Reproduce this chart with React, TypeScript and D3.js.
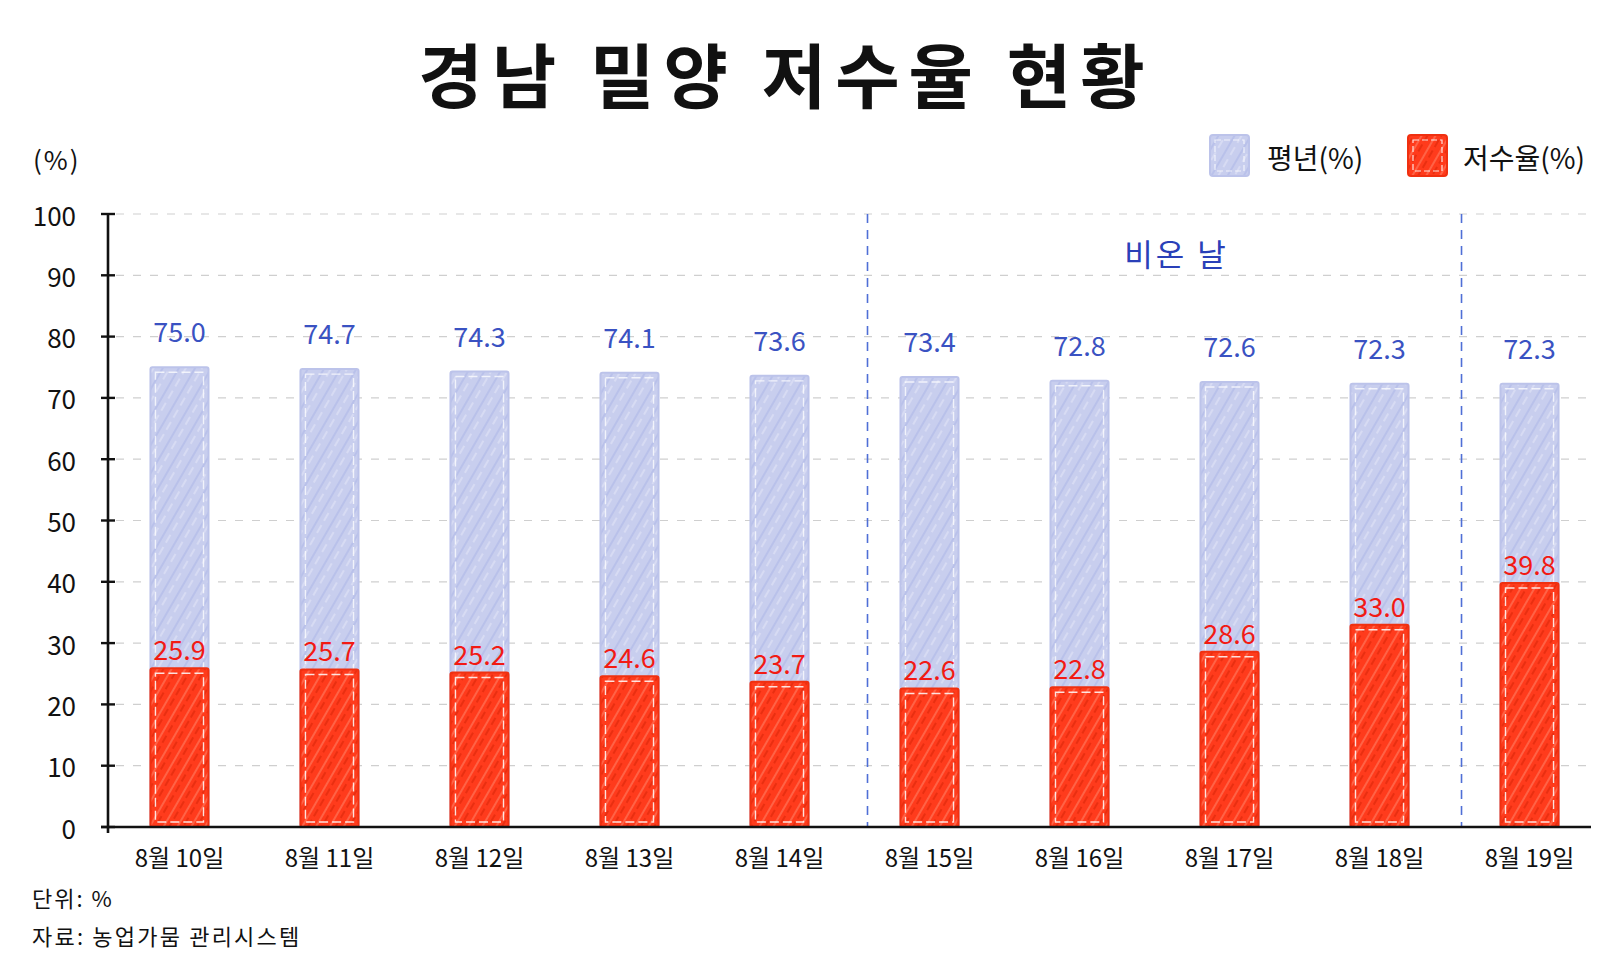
import React from "react";
import * as d3 from "d3";

const categories = ["8월 10일", "8월 11일", "8월 12일", "8월 13일", "8월 14일", "8월 15일", "8월 16일", "8월 17일", "8월 18일", "8월 19일"];
const normalValues = [75.0, 74.7, 74.3, 74.1, 73.6, 73.4, 72.8, 72.6, 72.3, 72.3];
const storageValues = [25.9, 25.7, 25.2, 24.6, 23.7, 22.6, 22.8, 28.6, 33.0, 39.8];
const yTicks = [0, 10, 20, 30, 40, 50, 60, 70, 80, 90, 100];
const rainyDays = ["8월 15일", "8월 16일", "8월 17일", "8월 18일"];
const seriesNames = ["평년(%)", "저수율(%)"];

const W = 1620;
const H = 971;
const FONT = "'Noto Sans CJK KR', 'Noto Sans', sans-serif";
const BLUE = "#c8ceee";
const RED = "#ff3b1c";
const BLUE_TEXT = "#3a52c2";
const RED_TEXT = "#f21a14";

export default function App() {
  const x = d3
    .scaleBand<string>()
    .domain(categories)
    .range([108, 1601])
    .paddingInner(0.613)
    .paddingOuter(0.283);
  const y = d3.scaleLinear().domain([0, 100]).range([827, 214]);
  const bw = x.bandwidth();
  const gap = x.step() - bw;
  const xAxisEnd = 1591;

  const rainLeft = (x(rainyDays[0]) as number) - gap / 2 + 13;
  const rainRight = (x(rainyDays[rainyDays.length - 1]) as number) + bw + gap / 2 + 7;

  const bar = (i: number, v: number, kind: "blue" | "red") => {
    const bx = x(categories[i]) as number;
    const by = y(v);
    const bh = y(0) - by;
    const fill = kind === "blue" ? "url(#hatchBlue)" : "url(#hatchRed)";
    const edge = kind === "blue" ? "#bcc3ea" : "#f03010";
    const inner = kind === "blue" ? "rgba(255,255,255,0.75)" : "rgba(255,255,255,0.85)";
    return (
      <g key={kind + i}>
        <rect x={bx} y={by} width={bw} height={bh} fill={fill} stroke={edge} strokeWidth={2} rx={2} />
        <rect
          x={bx + 5}
          y={by + 5}
          width={bw - 10}
          height={Math.max(0, bh - 10)}
          fill="none"
          stroke={inner}
          strokeWidth={1.4}
          strokeDasharray="9 4"
        />
      </g>
    );
  };

  return (
    <svg width={W} height={H} style={{ display: "block", position: "absolute", left: 0, top: 0, background: "#fff" }}>
      <defs>
        <pattern id="hatchBlue" width="14" height="14" patternUnits="userSpaceOnUse" patternTransform="rotate(30)">
          <rect width="14" height="14" fill={BLUE} />
          <line x1="3" y1="0" x2="3" y2="14" stroke="#b6bee9" strokeWidth="1.6" />
          <line x1="9" y1="0" x2="9" y2="9" stroke="#e6e9f8" strokeWidth="1" />
        </pattern>
        <pattern id="hatchRed" width="12" height="12" patternUnits="userSpaceOnUse" patternTransform="rotate(30)">
          <rect width="12" height="12" fill={RED} />
          <line x1="3" y1="0" x2="3" y2="12" stroke="#ff8a70" strokeWidth="1" />
          <line x1="8" y1="2" x2="8" y2="10" stroke="#e02a0c" strokeWidth="1.4" />
        </pattern>
      </defs>

      {/* Title */}
      <text
        x={786}
        y={72}
        textAnchor="middle"
        dominantBaseline="central"
        fontFamily={FONT}
        fontWeight={600}
        fontSize={70}
        letterSpacing={9}
        fill="#111"
      >
        경남 밀양 저수율 현황
      </text>

      {/* Unit label */}
      <text x={33} y={158} dominantBaseline="central" fontFamily={FONT} fontSize={26} letterSpacing={2} fill="#111">
        (%)
      </text>

      {/* Legend */}
      <rect x={1210} y={135} width={39} height={41} fill="url(#hatchBlue)" stroke="#bcc3ea" strokeWidth={2} rx={3} />
      <rect x={1215} y={140} width={29} height={31} fill="none" stroke="rgba(255,255,255,0.75)" strokeWidth={1.2} strokeDasharray="6 3" />
      <text x={1267} y={157} dominantBaseline="central" fontFamily={FONT} fontSize={28} fill="#111">
        {seriesNames[0]}
      </text>
      <rect x={1408} y={135} width={39} height={41} fill="url(#hatchRed)" stroke="#f03010" strokeWidth={2} rx={3} />
      <rect x={1413} y={140} width={29} height={31} fill="none" stroke="rgba(255,255,255,0.85)" strokeWidth={1.2} strokeDasharray="6 3" />
      <text x={1463} y={157} dominantBaseline="central" fontFamily={FONT} fontSize={28} fill="#111">
        {seriesNames[1]}
      </text>

      {/* Gridlines */}
      {yTicks
        .filter((t) => t > 0)
        .map((t) => (
          <line
            key={"g" + t}
            x1={116}
            x2={xAxisEnd}
            y1={y(t)}
            y2={y(t)}
            stroke="#cfcfcf"
            strokeWidth={1.2}
            strokeDasharray="8 9"
          />
        ))}

      {/* Rainy day separators */}
      {[rainLeft, rainRight].map((lx, i) => (
        <line
          key={"r" + i}
          x1={lx}
          x2={lx}
          y1={y(100)}
          y2={y(0)}
          stroke="#4f6fd6"
          strokeWidth={1.6}
          strokeDasharray="9 7"
        />
      ))}
      <text
        x={(rainLeft + rainRight) / 2 + 12}
        y={y(93.8)}
        textAnchor="middle"
        dominantBaseline="central"
        fontFamily={FONT}
        fontSize={31}
        letterSpacing={3}
        fill="#2a40b8"
      >
        비온 날
      </text>

      {/* Bars */}
      {normalValues.map((v, i) => bar(i, v, "blue"))}
      {storageValues.map((v, i) => bar(i, v, "red"))}

      {/* Value labels */}
      {normalValues.map((v, i) => (
        <text
          key={"nl" + i}
          x={(x(categories[i]) as number) + bw / 2}
          y={y(v) - 25}
          textAnchor="middle"
          fontFamily={FONT}
          fontSize={27}
          fill={BLUE_TEXT}
        >
          {v.toFixed(1)}
        </text>
      ))}
      {storageValues.map((v, i) => (
        <text
          key={"sl" + i}
          x={(x(categories[i]) as number) + bw / 2}
          y={y(v) - 8}
          textAnchor="middle"
          fontFamily={FONT}
          fontSize={27}
          fill={RED_TEXT}
        >
          {v.toFixed(1)}
        </text>
      ))}

      {/* Y axis */}
      <line x1={108} x2={108} y1={y(100)} y2={y(0) + 6} stroke="#111" strokeWidth={2.6} />
      {yTicks.map((t) => (
        <g key={"yt" + t}>
          <line x1={101} x2={115} y1={y(t)} y2={y(t)} stroke="#111" strokeWidth={2.4} />
          <text
            x={76}
            y={y(t)}
            textAnchor="end"
            dominantBaseline="central"
            fontFamily={FONT}
            fontSize={26}
            fill="#111"
          >
            {t}
          </text>
        </g>
      ))}

      {/* X axis */}
      <line x1={101} x2={xAxisEnd} y1={y(0)} y2={y(0)} stroke="#111" strokeWidth={2.6} />
      {categories.map((c) => (
        <text
          key={"xl" + c}
          x={(x(c) as number) + bw / 2}
          y={856}
          textAnchor="middle"
          dominantBaseline="central"
          fontFamily={FONT}
          fontSize={24}
          fill="#111"
        >
          {c}
        </text>
      ))}

      {/* Footer */}
      <text x={32} y={897} dominantBaseline="central" fontFamily={FONT} fontSize={22} letterSpacing={2} fill="#111">
        단위: %
      </text>
      <text x={32} y={935} dominantBaseline="central" fontFamily={FONT} fontSize={22} letterSpacing={2.2} fill="#111">
        자료: 농업가뭄 관리시스템
      </text>
    </svg>
  );
}
